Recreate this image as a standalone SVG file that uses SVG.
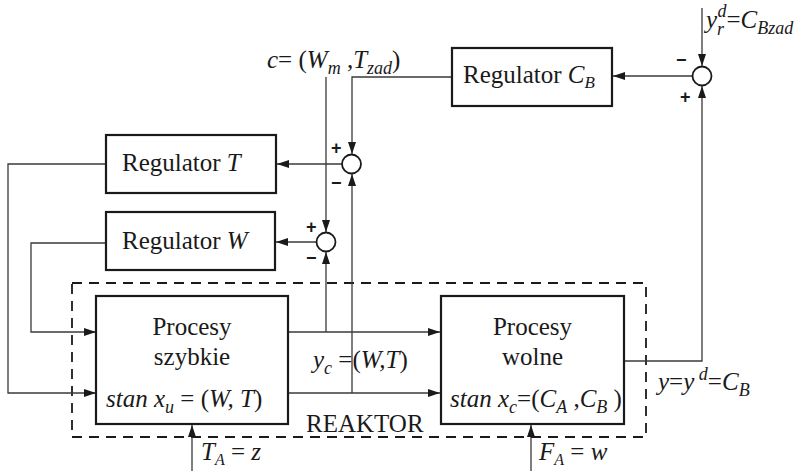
<svg xmlns="http://www.w3.org/2000/svg" width="803" height="471" viewBox="0 0 803 471">
<style>
.box{fill:#fff;stroke:#1a1a1a;stroke-width:2.2}
.ar{fill:none;stroke:#3a3a3a;stroke-width:1.3;marker-end:url(#ah)}
.sum{fill:#fff;stroke:#1a1a1a;stroke-width:1.8}
.t{font-family:"Liberation Serif","Times New Roman",serif;font-size:25px;fill:#1a1a1a}
.i{font-style:italic}
.s{font-family:"Liberation Sans",Arial,sans-serif;font-weight:bold;font-size:18px;fill:#1a1a1a}
.dash{fill:none;stroke:#1a1a1a;stroke-width:1.8;stroke-dasharray:10 7}
</style>
<defs>
<marker id="ah" viewBox="0 0 12 8" refX="12" refY="4" markerWidth="12" markerHeight="8" markerUnits="userSpaceOnUse" orient="auto">
<path d="M0,0 L12,4 L0,8 Z" fill="#1a1a1a"/>
</marker>
</defs>
<rect width="803" height="471" fill="#fff"/>
<g id="reaktor">
<rect class="dash" x="72" y="283" width="574" height="154"/>
<text class="t" x="306" y="432">REAKTOR</text>
</g>
<g id="connectors">
<path class="ar" d="M702,8 V66"/>
<path class="ar" d="M624,361 H702 V86"/>
<path class="ar" d="M692,76 H613"/>
<path class="ar" d="M451,77 H352 V154"/>
<path class="ar" d="M326,77 V232"/>
<path class="ar" d="M342,164 H277"/>
<path class="ar" d="M316,242 H276"/>
<path class="ar" d="M106,164 H8 V393 H96"/>
<path class="ar" d="M106,243 H31 V332 H96"/>
<path class="ar" d="M288,332 H440"/>
<path class="ar" d="M326,332 V252"/>
<path class="ar" d="M288,393 H440"/>
<path class="ar" d="M352,393 V174"/>
<path class="ar" d="M192,471 V425"/>
<path class="ar" d="M531,471 V425"/>
</g>
<g id="regC">
<rect class="box" x="452" y="48" width="160" height="58"/>
<text class="t" x="463" y="83">Regulator <tspan class="i">C</tspan><tspan class="i" font-size="17" dy="5">B</tspan></text>
</g>
<g id="regT">
<rect class="box" x="106" y="135" width="170" height="58"/>
<text class="t" x="122" y="171">Regulator <tspan class="i">T</tspan></text>
</g>
<g id="regW">
<rect class="box" x="106" y="212" width="169" height="58"/>
<text class="t" x="122" y="249">Regulator <tspan class="i">W</tspan></text>
</g>
<g id="sum1">
<circle class="sum" cx="351.5" cy="164" r="9.5"/>
<text class="s" x="331" y="154">+</text>
<text class="s" x="331" y="189">−</text>
</g>
<g id="sum2">
<circle class="sum" cx="326" cy="242" r="9.5"/>
<text class="s" x="306" y="233">+</text>
<text class="s" x="306" y="264">−</text>
</g>
<g id="sum3">
<circle class="sum" cx="702" cy="76" r="9.5"/>
<text class="s" x="676" y="66">−</text>
<text class="s" x="680" y="103">+</text>
</g>
<g id="szybkie">
<rect class="box" x="96" y="296" width="192" height="128"/>
<text class="t" x="192" y="335" text-anchor="middle" font-size="27">Procesy</text>
<text class="t" x="192" y="365" text-anchor="middle" font-size="27">szybkie</text>
<text class="t" x="106" y="407"><tspan class="i">stan x</tspan><tspan class="i" font-size="18" dy="6">u</tspan><tspan dy="-6"> = (</tspan><tspan class="i">W, T</tspan>)</text>
</g>
<g id="wolne">
<rect class="box" x="441" y="296" width="183" height="128"/>
<text class="t" x="532.5" y="335" text-anchor="middle" font-size="27">Procesy</text>
<text class="t" x="532.5" y="365" text-anchor="middle" font-size="27">wolne</text>
<text class="t" x="450" y="407"><tspan class="i">stan x</tspan><tspan class="i" font-size="18" dy="6">c</tspan><tspan dy="-6">=(</tspan><tspan class="i">C</tspan><tspan class="i" font-size="18" dy="6">A</tspan><tspan dy="-6"> ,</tspan><tspan class="i">C</tspan><tspan class="i" font-size="18" dy="6">B</tspan><tspan dy="-6"> )</tspan></text>
</g>
<g id="labels">
<text class="t" x="267" y="68"><tspan class="i">c</tspan>= (<tspan class="i">W</tspan><tspan class="i" font-size="18" dy="6">m</tspan><tspan dy="-6"> ,</tspan><tspan class="i">T</tspan><tspan class="i" font-size="18" dy="6">zad</tspan><tspan dy="-6">)</tspan></text>
<text class="t" x="706" y="28"><tspan class="i">y</tspan><tspan class="i" font-size="18" dy="7">r</tspan><tspan class="i" font-size="18" dx="-6" dy="-18">d</tspan><tspan dy="11">=</tspan><tspan class="i">C</tspan><tspan class="i" font-size="18" dy="6">Bzad</tspan></text>
<text class="t" x="313" y="368"><tspan class="i">y</tspan><tspan class="i" font-size="18" dy="6">c</tspan><tspan dy="-6"> =(</tspan><tspan class="i">W,T</tspan>)</text>
<text class="t" x="658" y="390"><tspan class="i">y</tspan>=<tspan class="i">y</tspan><tspan class="i" font-size="18" dy="-10"> d</tspan><tspan dy="10">=</tspan><tspan class="i">C</tspan><tspan class="i" font-size="18" dy="6">B</tspan></text>
<text class="t" x="201" y="460"><tspan class="i">T</tspan><tspan class="i" font-size="16" dy="5">A</tspan><tspan dy="-5"> = </tspan><tspan class="i">z</tspan></text>
<text class="t" x="539" y="460"><tspan class="i">F</tspan><tspan class="i" font-size="16" dy="5">A</tspan><tspan dy="-5"> = </tspan><tspan class="i">w</tspan></text>
</g>
</svg>
